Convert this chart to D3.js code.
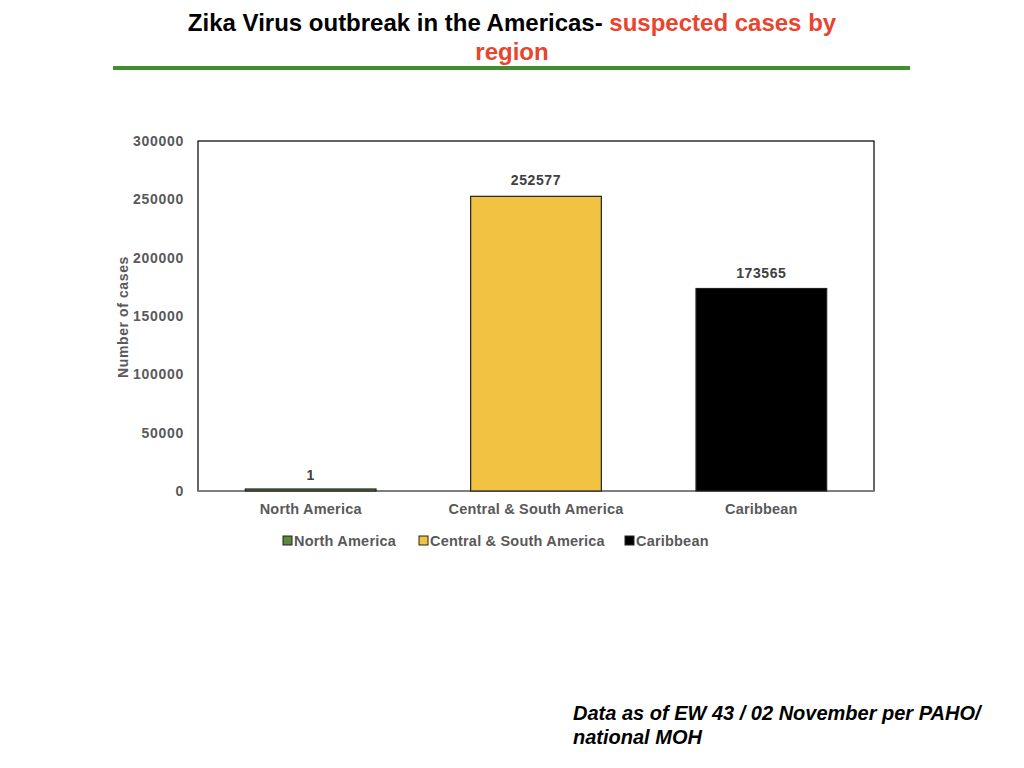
<!DOCTYPE html>
<html>
<head>
<meta charset="utf-8">
<script src="https://cdn.jsdelivr.net/npm/d3@7"></script>
<style>
  html, body { margin: 0; padding: 0; background: #fff; }
  svg { display: block; font-family: "Liberation Sans", Arial, Helvetica, sans-serif; }
</style>
</head>
<body>
<div id="chart"></div>
<script>
// chart values
const regions = ["North America", "Central & South America", "Caribbean"];
const cases = [1, 252577, 173565];
const regionColors = ["#5a8a3a", "#f2c343", "#000000"];
const yTicks = [0, 50000, 100000, 150000, 200000, 250000, 300000];

const width = 1024, height = 768;
const plot = { left: 198, top: 141, right: 874, bottom: 491 };

let svg = d3.select("#chart").append("svg")
    .attr("width", width)
    .attr("height", height);

// title
let title = svg.append("text")
    .attr("x", 512)
    .attr("y", 31)
    .attr("text-anchor", "middle")
    .attr("font-size", "24px")
    .attr("font-weight", "700");
title.append("tspan").attr("fill", "#000").text("Zika Virus outbreak in the Americas- ");
title.append("tspan").attr("fill", "#e8442e").text("suspected cases by");

svg.append("text")
    .attr("x", 512)
    .attr("y", 60)
    .attr("text-anchor", "middle")
    .attr("font-size", "24px")
    .attr("font-weight", "700")
    .attr("fill", "#e8442e")
    .text("region");

svg.append("rect")
    .attr("x", 113)
    .attr("y", 66)
    .attr("width", 797)
    .attr("height", 4)
    .attr("fill", "#3f8f2c");

let x = d3.scaleBand()
    .domain(regions)
    .range([plot.left, plot.right])
    .paddingInner(0.42)
    .paddingOuter(0.21);

let y = d3.scaleLinear()
    .domain([0, 300000])
    .range([plot.bottom, plot.top]);

// plot frame
svg.append("rect")
    .attr("x", plot.left)
    .attr("y", plot.top)
    .attr("width", plot.right - plot.left)
    .attr("height", plot.bottom - plot.top)
    .attr("fill", "none")
    .attr("stroke", "#000")
    .attr("stroke-width", 1.2);

// y axis
let yAxis = svg.append("g")
    .attr("transform", `translate(${plot.left},0)`)
    .call(d3.axisLeft(y).tickValues(yTicks).tickSize(0).tickPadding(14).tickFormat(d3.format("d")));
yAxis.select(".domain").remove();
yAxis.selectAll("text")
    .attr("font-family", "Liberation Sans, Arial, sans-serif")
    .attr("font-size", "14px")
    .attr("font-weight", "700")
    .attr("letter-spacing", "0.7px")
    .attr("fill", "#595959");

svg.append("text")
    .attr("transform", `translate(128,${(plot.top + plot.bottom) / 2 + 1}) rotate(-90)`)
    .attr("text-anchor", "middle")
    .attr("font-size", "14px")
    .attr("font-weight", "700")
    .attr("letter-spacing", "0.6px")
    .attr("fill", "#595959")
    .text("Number of cases");

// x axis line
svg.append("line")
    .attr("x1", plot.left)
    .attr("x2", plot.right)
    .attr("y1", plot.bottom)
    .attr("y2", plot.bottom)
    .attr("stroke", "#888")
    .attr("stroke-width", 1.5);

// bars
let data = regions.map((r, i) => ({ region: r, value: cases[i], color: regionColors[i] }));

svg.append("g").selectAll("rect")
    .data(data)
    .join("rect")
    .attr("x", d => x(d.region))
    .attr("y", d => Math.min(y(d.value), y(0) - 2))
    .attr("width", x.bandwidth())
    .attr("height", d => Math.max(y(0) - y(d.value), 2))
    .attr("fill", d => d.color)
    .attr("stroke", "#222")
    .attr("stroke-width", 1.2);

svg.append("g").selectAll("text")
    .data(data)
    .join("text")
    .attr("x", d => x(d.region) + x.bandwidth() / 2)
    .attr("y", d => y(d.value) - 11)
    .attr("text-anchor", "middle")
    .attr("font-size", "14px")
    .attr("font-weight", "700")
    .attr("letter-spacing", "0.6px")
    .attr("fill", "#404040")
    .text(d => d.value);

// x axis labels
let xAxis = svg.append("g")
    .attr("transform", `translate(0,${plot.bottom})`)
    .call(d3.axisBottom(x).tickSize(0).tickPadding(13));
xAxis.select(".domain").remove();
xAxis.selectAll("text")
    .attr("font-family", "Liberation Sans, Arial, sans-serif")
    .attr("font-size", "14.5px")
    .attr("font-weight", "700")
    .attr("letter-spacing", "0.2px")
    .attr("fill", "#595959");

// legend
let legendX = [283, 419, 625];
let legend = svg.append("g").selectAll("g")
    .data(data)
    .join("g")
    .attr("transform", (d, i) => `translate(${legendX[i]},536)`);

legend.append("rect")
    .attr("width", 9)
    .attr("height", 9)
    .attr("fill", d => d.color)
    .attr("stroke", "#222")
    .attr("stroke-width", 1);

legend.append("text")
    .attr("x", 11)
    .attr("y", 10)
    .attr("font-size", "14.5px")
    .attr("font-weight", "700")
    .attr("letter-spacing", "0.2px")
    .attr("fill", "#595959")
    .text(d => d.region);

// source note
let note = svg.append("text")
    .attr("x", 573)
    .attr("font-size", "20px")
    .attr("font-weight", "700")
    .attr("font-style", "italic")
    .attr("fill", "#000");
note.append("tspan").attr("x", 573).attr("y", 720).text("Data as of EW 43 / 02 November per PAHO/");
note.append("tspan").attr("x", 573).attr("y", 744).text("national MOH");
</script>
</body>
</html>
